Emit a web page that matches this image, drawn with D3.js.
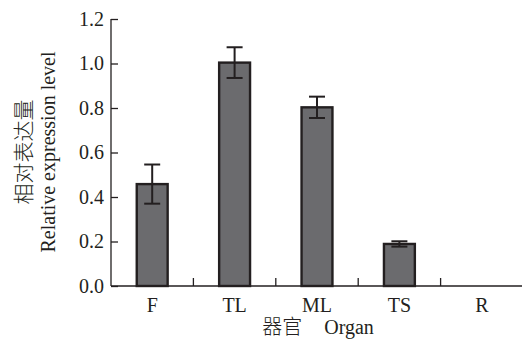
<!DOCTYPE html><html><head><meta charset="UTF-8"><script src="https://d3js.org/d3.v7.min.js"></script><style>
            body { margin: 0; background: #fff; }
            #chart { width: 522px; height: 343px; }
            text { font-family: "Liberation Serif", "Times New Roman", serif; fill: #231f20; }
            .cjk { font-family: "Noto Sans CJK SC", sans-serif; font-weight: 300; }
        </style></head><body><div id="chart"></div><script>
            const organs = ['F', 'TL', 'ML', 'TS', 'R'];
            const expression = [0.458, 1.004, 0.803, 0.189, 0];
            const errors = [0.088, 0.069, 0.048, 0.012, 0];
            const yTicks = ['0.0', '0.2', '0.4', '0.6', '0.8', '1.0', '1.2'];

            const svg = d3.select('#chart')
                .append('svg')
                .attr('width', 522)
                .attr('height', 343);

            const x = d3.scaleBand()
                .domain(organs)
                .range([111, 523])
                .padding(0);

            const y = d3.scaleLinear()
                .domain([0, 1.2])
                .range([286, 19]);

            const barW = x.bandwidth() * 0.375;
            const ink = '#231f20';

            // y axis
            const yAxis = svg.append('g')
                .attr('transform', 'translate(111,0)')
                .call(d3.axisRight(y).tickValues(yTicks.map(Number)).tickSize(7).tickFormat(''));
            yAxis.select('.domain').attr('stroke', ink).attr('stroke-width', 1.3).attr('d', 'M0,286V19');
            yAxis.selectAll('.tick line').attr('stroke', ink).attr('stroke-width', 1.3);

            svg.selectAll('.ylab')
                .data(yTicks)
                .enter().append('text')
                .attr('class', 'ylab')
                .attr('x', 104)
                .attr('y', d => y(+d) + 6.5)
                .attr('text-anchor', 'end')
                .style('font-size', '20px')
                .text(d => d);

            // x axis with ticks between categories
            const xAxis = svg.append('g')
                .attr('transform', 'translate(0,286)');
            xAxis.append('line')
                .attr('x1', 111).attr('x2', 522)
                .attr('stroke', ink).attr('stroke-width', 1.3);
            xAxis.selectAll('.xtick')
                .data(organs.slice(1))
                .enter().append('line')
                .attr('x1', d => x(d)).attr('x2', d => x(d))
                .attr('y1', 0).attr('y2', -8)
                .attr('stroke', ink).attr('stroke-width', 1.3);

            svg.selectAll('.xlab')
                .data(organs)
                .enter().append('text')
                .attr('x', d => x(d) + x.bandwidth() / 2)
                .attr('y', 312)
                .attr('text-anchor', 'middle')
                .style('font-size', '20px')
                .text(d => d);

            // bars
            svg.selectAll('.bar')
                .data(organs.filter((d, i) => expression[i] > 0))
                .enter().append('rect')
                .attr('class', 'bar')
                .attr('x', d => x(d) + (x.bandwidth() - barW) / 2)
                .attr('y', d => y(expression[organs.indexOf(d)]))
                .attr('width', barW)
                .attr('height', d => y(0) - y(expression[organs.indexOf(d)]))
                .attr('fill', '#6b6b6e')
                .attr('stroke', ink)
                .attr('stroke-width', 2.4);

            // error bars
            const eb = svg.selectAll('.err')
                .data(organs.filter((d, i) => errors[i] > 0))
                .enter().append('g')
                .attr('class', 'err');
            const cx = d => x(d) + x.bandwidth() / 2;
            const hi = d => y(expression[organs.indexOf(d)] + errors[organs.indexOf(d)]);
            const lo = d => y(expression[organs.indexOf(d)] - errors[organs.indexOf(d)]);
            eb.append('line')
                .attr('x1', cx).attr('x2', cx)
                .attr('y1', hi).attr('y2', lo)
                .attr('stroke', ink).attr('stroke-width', 2);
            eb.append('line')
                .attr('x1', d => cx(d) - 8).attr('x2', d => cx(d) + 8)
                .attr('y1', hi).attr('y2', hi)
                .attr('stroke', ink).attr('stroke-width', 2);
            eb.append('line')
                .attr('x1', d => cx(d) - 8).attr('x2', d => cx(d) + 8)
                .attr('y1', lo).attr('y2', lo)
                .attr('stroke', ink).attr('stroke-width', 2);

            // axis titles
            svg.append('text')
                .attr('transform', 'translate(31,152) rotate(-90)')
                .attr('text-anchor', 'middle')
                .attr('class', 'cjk')
                .style('font-size', '21px')
                .text('相对表达量');
            svg.append('text')
                .attr('transform', 'translate(55,152) rotate(-90)')
                .attr('text-anchor', 'middle')
                .style('font-size', '20px')
                .text('Relative expression level');

            const xt = svg.append('text')
                .attr('x', 318)
                .attr('y', 334)
                .attr('text-anchor', 'middle')
                .style('font-size', '20px');
            xt.append('tspan').attr('class', 'cjk').text('器官');
            xt.append('tspan').attr('dx', 22).text('Organ');
        </script></body></html>
